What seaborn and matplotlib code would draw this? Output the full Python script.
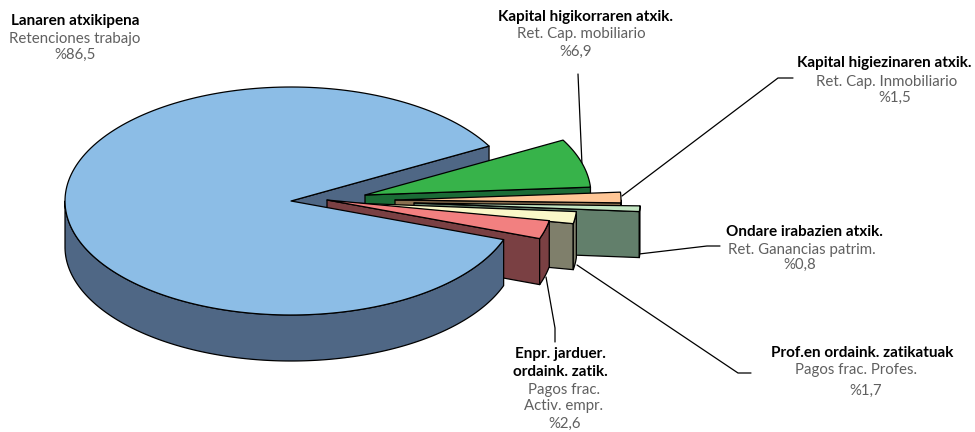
import numpy as np
import seaborn as sns
import matplotlib.pyplot as plt

sns.set_theme(style="white")
plt.rcParams['font.family'] = ['Lato', 'DejaVu Sans']

# shares of the pie, in %
names_eu = ["Lanaren atxikipena", "Kapital higikorraren atxik.", "Kapital higiezinaren atxik.",
            "Ondare irabazien atxik.", "Prof.en ordaink. zatikatuak", "Enpr. jarduer.\nordaink. zatik."]
names_es = ["Retenciones trabajo", "Ret. Cap. mobiliario", "Ret. Cap. Inmobiliario",
            "Ret. Ganancias patrim.", "Pagos frac. Profes.", "Pagos frac.\nActiv. empr."]
shares = [86.5, 6.9, 1.5, 0.8, 1.7, 2.6]
share_labels = ["%86,5", "%6,9", "%1,5", "%0,8", "%1,7", "%2,6"]

top_colors = sns.color_palette(["#8CBDE6", "#37B34A", "#FFC696", "#C3E6C3", "#FAF8C8", "#F28080"])
side_colors = sns.color_palette(["#4F6785", "#1B6B36", "#8A7050", "#627F6B", "#7F7F6B", "#7A4043"])

# apex of each exploded slice on the canvas
apex_x = [291, 365, 395, 414, 351, 327]
apex_y = [201, 195, 200, 203, 203, 200]

rx, ry, depth = 226, 114, 46
start_angle = 28.8

fig = plt.figure(figsize=(9.75, 4.32), dpi=100)
ax = fig.add_axes([0, 0, 1, 1])
ax.set_xlim(0, 975)
ax.set_ylim(432, 0)
ax.axis("off")


def arc(i, a, b):
    t = np.radians(np.linspace(a, b, 200))
    return apex_x[i] + rx * np.cos(t), apex_y[i] - ry * np.sin(t)


def face(xs, ys, color, z):
    ax.fill(xs, ys, facecolor=color, edgecolor="black", lw=0.9, joinstyle="round", zorder=z)


def draw_walls(i, a, b, z):
    # cut face on the clockwise end of the slice
    x, y = arc(i, b, b)
    face([apex_x[i], x[0], x[0], apex_x[i]],
         [apex_y[i], y[0], y[0] + depth, apex_y[i] + depth], side_colors[i], z)
    # outer wall, only the part turned to the viewer
    if b < 0:
        x, y = arc(i, min(0, a), b)
        face(np.r_[x, x[::-1]], np.r_[y, y[::-1] + depth], side_colors[i], z)


def draw_top(i, a, b, z):
    x, y = arc(i, a, b)
    face(np.r_[apex_x[i], x], np.r_[apex_y[i], y], top_colors[i], z)


# slice angles run clockwise from the upper cut of the big slice
edges = start_angle - 3.6 * np.cumsum([0] + shares[1:])
main_a, main_b = start_angle, start_angle + 3.6 * shares[0]

# leader lines sit under the slices
leaders = [
    ([578, 582], [74, 165]),
    ([622, 778, 793], [196, 78, 78]),
    ([639, 707, 720], [254, 246, 246]),
    ([577, 738, 751], [265, 373, 373]),
    ([546, 555, 555], [277, 328, 342]),
]
for xs, ys in leaders:
    ax.plot(xs, ys, color="black", lw=0.9, zorder=1)

# inner cut of the big slice is seen through the gap
x, y = arc(0, start_angle, start_angle)
face([apex_x[0], x[0], x[0], apex_x[0]], [apex_y[0], y[0], y[0] + depth, apex_y[0] + depth], side_colors[0], 2)

# back to front
z = 3
for i in range(1, 6):
    a, b = edges[i - 1], edges[i]
    draw_walls(i, a, b, z)
    draw_top(i, a, b, z + 1)
    z += 2

# big slice goes over the pink wall
x, y = arc(0, 180, main_b)
face(np.r_[x, x[::-1]], np.r_[y, y[::-1] + depth], side_colors[0], z)
draw_top(0, main_a, main_b, z + 1)

# labels: bold name, light name, share
bold = dict(fontsize=11, fontweight="bold", color="black", ha="center", va="center", linespacing=1.3, zorder=20)
light = dict(fontsize=10.8, fontweight="normal", color="#606060", ha="center", va="center", linespacing=1.2, zorder=20)
name_pos = [(75, 21), (585, 17), (884, 63), (804, 232), (862, 353), (560, 363)]
es_pos = [(75, 39), (581, 34), (887, 82), (802, 250), (856, 370), (564, 398)]
pct_pos = [(75, 55), (576, 52), (895, 98), (800, 265), (866, 391), (565, 424)]
for i in range(6):
    ax.text(*name_pos[i], names_eu[i], **bold)
    ax.text(*es_pos[i], names_es[i], **light)
    ax.text(*pct_pos[i], share_labels[i], **light)

fig.savefig("out.png", dpi=100)
